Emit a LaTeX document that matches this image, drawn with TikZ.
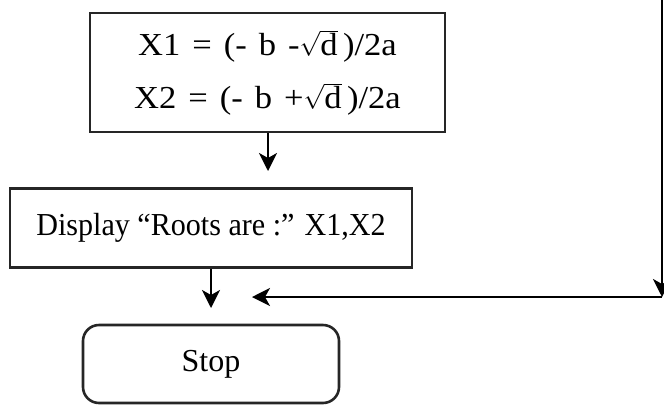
\documentclass[tikz,border=0pt]{standalone}
\usepackage{fontspec}
\setmainfont{Liberation Serif}
\usetikzlibrary{arrows.meta}
\begin{document}
\begin{tikzpicture}[x=1pt,y=-1pt,
  box/.style={draw=black!85,line width=2.6pt,rectangle,inner sep=0pt,align=center,font=\fontsize{32}{53}\selectfont},
  termbox/.style={box,rounded corners=16pt},
  conn/.style={line width=2pt,-{Stealth[length=18pt,width=18pt,inset=5pt]}}]
\useasboundingbox (0,0) rectangle (664,405);
\node[box,minimum width=355pt,minimum height=119pt,
  font={\fontsize{32}{53}\selectfont\addfontfeatures{FakeStretch=1.08}\spaceskip=12pt plus 2pt minus 1pt}] (calc) at (267.5,72.5)
  {X1 = (- b -$\sqrt{\hbox{d}}$\,)/2a\\X2 = (- b +$\sqrt{\hbox{d}}$\,)/2a};
\node[box,minimum width=402pt,minimum height=79pt] (disp) at (211,228)
  {\addfontfeatures{FakeStretch=0.94}Display “Roots are :” X1,X2};
\node[termbox,minimum width=256pt,minimum height=78pt] (stop) at (211,364) {Stop};
\coordinate (a1) at (268,171);
\coordinate (a2) at (211,308);
\coordinate (top) at (662,0);
\coordinate (corner) at (662,297);
\coordinate (a3) at (252,297);
\draw[conn] (calc.south -| a1) -- (a1);
\draw[conn] (disp.south) -- (a2);
\draw[conn] (top) -- (corner);
\draw[conn] (corner) -- (a3);
\end{tikzpicture}
\end{document}
